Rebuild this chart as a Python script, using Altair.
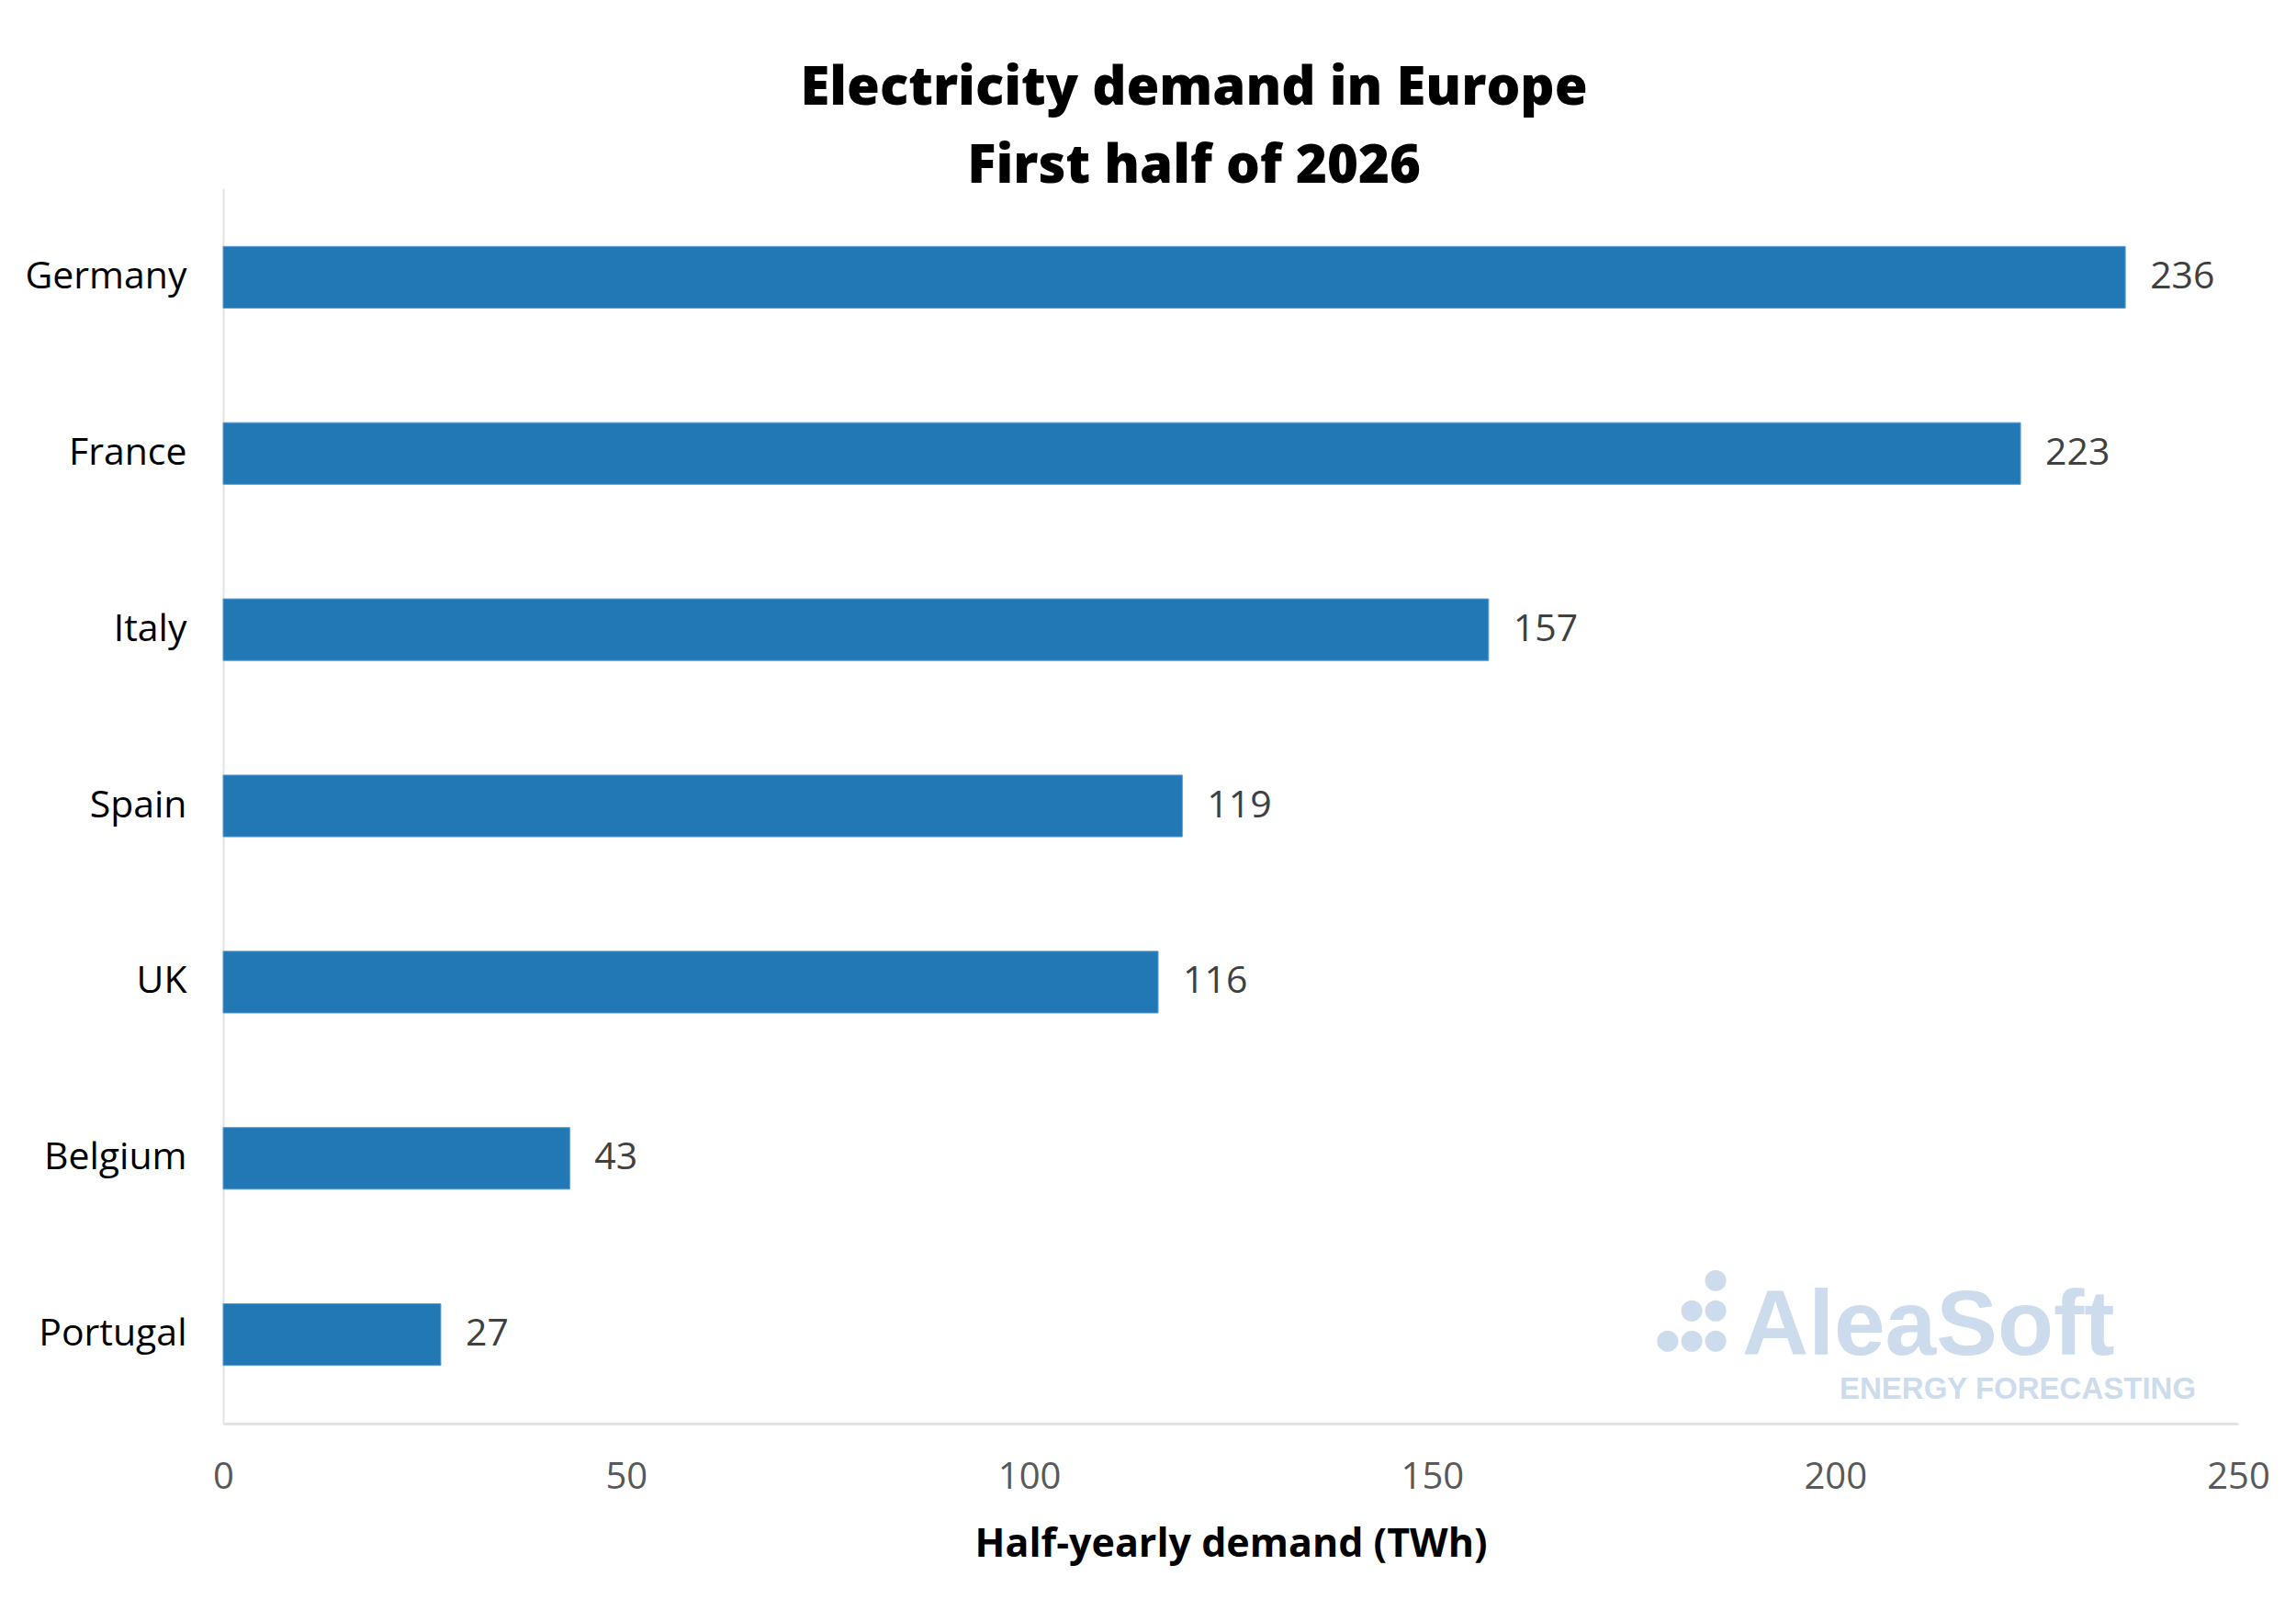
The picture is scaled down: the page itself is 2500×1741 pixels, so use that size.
import altair as alt
import pandas as pd

COUNTRIES = ["Germany", "France", "Italy", "Spain", "UK", "Belgium", "Portugal"]
DEMAND_TWH = [236, 223, 157, 119, 116, 43, 27]
X_TICKS = [0, 50, 100, 150, 200, 250]

BAR = "#2178B4"
WATERMARK = "#CCDCEC"
FONT = "Open Sans"

data = pd.DataFrame({"country": COUNTRIES, "demand": DEMAND_TWH})

base = alt.Chart(data).encode(
    y=alt.Y(
        "country:N",
        sort=COUNTRIES,
        title=None,
        scale=alt.Scale(paddingInner=0.65, paddingOuter=0.33),
        axis=alt.Axis(
            ticks=False,
            labelFontSize=41,
            labelColor="#000000",
            labelPadding=40,
            domainColor="#E3E3E3",
            domainWidth=2,
        ),
    ),
    x=alt.X(
        "demand:Q",
        title="Half-yearly demand (TWh)",
        scale=alt.Scale(domain=[0, 250], nice=False),
        axis=alt.Axis(
            values=X_TICKS,
            grid=False,
            ticks=False,
            labelFlush=False,
            labelFontSize=40,
            labelColor="#595959",
            labelPadding=38,
            domainColor="#E3E3E3",
            domainWidth=3,
            titleFontSize=43,
            titleFontWeight="bold",
            titleColor="#000000",
            titlePadding=32,
        ),
    ),
)

bars = base.mark_bar(color=BAR, stroke="#5B9BD5", strokeWidth=1)
values = base.mark_text(align="left", baseline="middle", dx=27, fontSize=41, color="#404040").encode(
    text=alt.Text("demand:Q")
)

logo_words = (
    alt.Chart(pd.DataFrame({"t": ["AleaSoft"]}))
    .mark_text(align="left", baseline="alphabetic", fontSize=100, fontWeight="bold",
               font="Liberation Sans", color=WATERMARK)
    .encode(x=alt.value(1654), y=alt.value(1270), text="t:N")
)
logo_sub = (
    alt.Chart(pd.DataFrame({"t": ["ENERGY FORECASTING"]}))
    .mark_text(align="left", baseline="alphabetic", fontSize=33, fontWeight="bold",
               font="Liberation Sans", color=WATERMARK)
    .encode(x=alt.value(1760), y=alt.value(1318), text="t:N")
)
logo_dots = (
    alt.Chart(pd.DataFrame({"t": ["●\n●●\n●●●"]}))
    .mark_text(align="right", baseline="bottom", fontSize=30, lineHeight=33,
               lineBreak="\n", font="DejaVu Sans", color=WATERMARK)
    .encode(x=alt.value(1638), y=alt.value(1203), text="t:N")
)

chart = (
    alt.layer(bars, values, logo_words, logo_sub, logo_dots)
    .properties(
        width=2194,
        height=1345,
        autosize=alt.AutoSizeParams(type="none"),
        padding={"left": 235, "top": 197, "right": 55, "bottom": 183},
        title=alt.Title(
            ["Electricity demand in Europe", "First half of 2026"],
            fontSize=58,
            fontWeight=800,
            color="#000000",
            lineHeight=85,
            anchor="middle",
            dx=-40,
            offset=-6,
        ),
    )
    .configure(font=FONT)
    .configure_view(stroke=None)
)

chart.save("out.html", embed_options={"renderer": "svg", "actions": False})
